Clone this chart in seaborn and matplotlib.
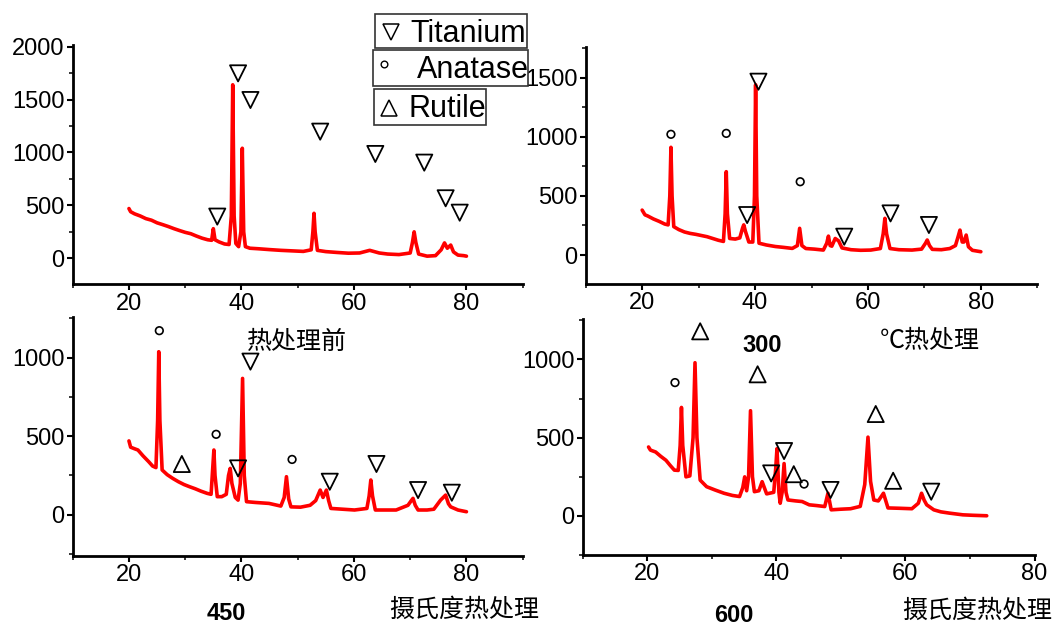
import matplotlib
matplotlib.use("Agg")
import matplotlib.pyplot as plt
import seaborn as sns
from matplotlib.ticker import MultipleLocator
from matplotlib.patches import Rectangle
from matplotlib.lines import Line2D

# ---------------- data ----------------
# Panel 1: before heat treatment
p1_x = [20.0, 20.3, 21.0, 22.0, 23.0, 24.0, 25.0, 26.0, 27.0, 28.0, 29.0, 30.0, 31.0, 32.0, 33.0,
        34.0, 34.7, 35.0, 35.3, 36.0, 37.0, 37.8, 38.2, 38.45, 38.7, 39.0, 39.5, 39.9, 40.15, 40.4,
        40.7, 41.5, 43.0, 45.0, 47.0, 49.0, 51.0, 52.4, 52.7, 52.9, 53.1, 53.5, 55.0, 57.0, 59.0,
        61.0, 62.8, 64.5, 66.0, 68.0, 70.0, 70.4, 70.7, 71.0, 71.5, 73.0, 74.5, 75.5, 76.1, 76.6,
        77.2, 77.7, 78.5, 79.5, 80.0]
p1_y = [470, 440, 420, 400, 375, 360, 335, 318, 300, 280, 262, 245, 232, 210, 190,
        175, 170, 280, 175, 155, 135, 130, 400, 1640, 400, 140, 110, 250, 1040, 250,
        110, 95, 90, 82, 75, 70, 65, 80, 250, 425, 250, 75, 63, 55, 48,
        50, 75, 50, 40, 35, 50, 150, 250, 150, 40, 20, 25, 80, 145, 95,
        125, 60, 30, 25, 20]

# Panel 2: 300 C
p2_x = [20.0, 20.5, 21.0, 22.0, 23.0, 24.0, 24.6, 24.9, 25.1, 25.3, 25.6, 26.5, 27.5, 28.5, 29.5,
        30.5, 31.5, 32.5, 33.5, 34.4, 34.7, 34.9, 35.1, 35.5, 36.5, 37.3, 37.8, 38.0, 38.3, 38.9,
        39.6, 39.9, 40.1, 40.3, 40.7, 42.0, 43.6, 45.0, 46.6, 47.5, 47.9, 48.3, 49.0, 50.5, 52.1,
        52.7, 53.0, 53.3, 53.6, 54.2, 54.8, 55.4, 57.0, 58.7, 60.5, 62.2, 62.7, 63.0, 63.3, 63.9,
        65.5, 67.8, 69.5, 70.2, 70.5, 70.9, 71.4, 73.0, 74.5, 75.5, 76.0, 76.3, 76.7, 77.0, 77.4,
        77.8, 78.5, 80.0]
p2_y = [380, 340, 330, 305, 285, 262, 255, 500, 911, 500, 240, 215, 195, 183, 175,
        165, 155, 140, 125, 115, 350, 705, 350, 140, 135, 145, 230, 255, 200, 110,
        110, 500, 1440, 500, 100, 85, 72, 65, 56, 80, 226, 80, 55, 50, 42,
        100, 160, 80, 75, 140, 120, 60, 45, 40, 42, 55, 180, 310, 180, 55,
        45, 42, 50, 100, 127, 80, 48, 45, 55, 80, 160, 211, 110, 110, 169,
        70, 40, 28]

# Panel 3: 450 C
p3_x = [20.0, 20.3, 21.0, 21.6, 22.5, 23.5, 24.2, 24.8, 25.1, 25.3, 25.5, 25.9, 26.8, 27.8, 28.8,
        29.8, 30.8, 31.8, 32.8, 33.9, 34.6, 34.9, 35.1, 35.3, 35.7, 36.5, 37.3, 37.7, 38.0, 38.3,
        38.9, 39.4, 39.8, 40.2, 40.5, 40.9, 42.5, 44.9, 47.0, 47.6, 48.0, 48.4, 48.8, 50.5, 52.2,
        53.2, 54.0, 54.5, 55.1, 55.5, 55.9, 58.0, 60.1, 62.3, 62.7, 63.0, 63.3, 63.8, 65.5, 67.5,
        69.6, 70.2, 70.5, 70.9, 71.4, 73.0, 74.2, 75.4, 76.3, 76.8, 77.2, 78.5, 80.0]
p3_y = [470, 430, 420, 412, 375, 338, 310, 300, 600, 1038, 600, 285, 255, 231, 210,
        192, 178, 165, 150, 136, 130, 300, 412, 250, 115, 115, 130, 250, 295, 200,
        110, 93, 200, 868, 250, 83, 78, 72, 55, 110, 242, 100, 50, 48, 60,
        90, 157, 110, 157, 90, 40, 35, 30, 40, 120, 221, 120, 30, 30, 30,
        60, 90, 104, 60, 30, 30, 35, 93, 125, 70, 50, 30, 19]

# Panel 4: 600 C
p4_x = [20.2, 20.5, 21.3, 22.1, 22.9, 23.6, 24.2, 24.8, 25.1, 25.3, 25.5, 26.0, 26.6, 27.1, 27.4,
        27.7, 28.2, 29.2, 30.5, 31.9, 33.2, 34.3, 34.8, 35.1, 35.4, 35.7, 36.0, 36.3, 36.6, 37.3,
        37.8, 38.5, 39.6, 39.9, 40.1, 40.4, 40.6, 40.9, 41.2, 41.5, 41.8, 43.0, 44.0, 45.1, 46.3,
        47.5, 48.0, 48.5, 50.0, 51.5, 53.0, 53.7, 54.2, 54.6, 55.1, 55.8, 56.6, 57.3, 59.0, 61.0,
        62.0, 62.5, 62.9, 63.3, 64.4, 65.5, 66.8, 68.9, 70.5, 72.6]
p4_y = [440, 420, 408, 380, 355, 320, 292, 290, 450, 693, 450, 249, 255, 500, 979,
        500, 228, 186, 165, 144, 130, 123, 180, 249, 160, 250, 672, 250, 154, 160,
        218, 140, 150, 300, 429, 150, 80, 150, 334, 150, 101, 95, 91, 70, 65,
        59, 144, 38, 42, 45, 60, 200, 503, 220, 101, 95, 144, 50, 48, 45,
        80, 144, 100, 70, 38, 25, 17, 6, 3, 0]

# Phase markers (x, y) per panel
p1_ti_x = [35.7, 39.4, 41.6, 54.0, 63.8, 72.5, 76.3, 78.8]
p1_ti_y = [394, 1748, 1496, 1197, 986, 904, 567, 431]

p2_an_x = [25.1, 34.9, 48.0]
p2_an_y = [1021, 1029, 620]
p2_ti_x = [38.6, 40.6, 55.8, 64.0, 70.8]
p2_ti_y = [338, 1466, 155, 352, 254]

p3_an_x = [25.4, 35.5, 49.0]
p3_an_y = [1172, 512, 352]
p3_ru_x = [29.4]
p3_ru_y = [323]
p3_ti_x = [39.4, 41.6, 55.7, 64.0, 71.4, 77.4]
p3_ti_y = [295, 975, 210, 323, 157, 140]

p4_an_x = [24.3, 44.3]
p4_an_y = [852, 203]
p4_ru_x = [28.2, 37.1, 42.7, 55.4, 58.1]
p4_ru_y = [1180, 905, 266, 651, 224]
p4_ti_x = [39.2, 41.2, 48.4, 64.0]
p4_ti_y = [271, 414, 165, 154]

legend_labels = ["Titanium", "Anatase", "Rutile"]
panel_titles_cn = ["热处理前", "℃热处理", "摄氏度热处理", "摄氏度热处理"]
panel_temps = ["300", "450", "600"]

# ---------------- figure ----------------
sns.set_style("ticks")
plt.rcParams["font.family"] = ["Liberation Sans", "DejaVu Sans"]

W, H = 1054, 625
fig = plt.figure(figsize=(W / 100, H / 100), dpi=100)


def px_axes(l, t, r, b):
    return fig.add_axes([l / W, 1 - b / H, (r - l) / W, (b - t) / H])


def fx(x):
    return x / W


def fy(y):
    return 1 - y / H


panels = [
    dict(rect=(72.7, 45.0, 522.7, 284.3), xlim=(10, 90), ylim=(-246, 2016),
         x=p1_x, y=p1_y, ti=(p1_ti_x, p1_ti_y), an=None, ru=None),
    dict(rect=(585.7, 46.7, 1037.3, 284.0), xlim=(10, 90), ylim=(-245, 1762),
         x=p2_x, y=p2_y, ti=(p2_ti_x, p2_ti_y), an=(p2_an_x, p2_an_y), ru=None),
    dict(rect=(72.7, 316.7, 522.7, 555.7), xlim=(10, 90), ylim=(-261, 1261),
         x=p3_x, y=p3_y, ti=(p3_ti_x, p3_ti_y), an=(p3_an_x, p3_an_y), ru=(p3_ru_x, p3_ru_y)),
    dict(rect=(582.7, 318.5, 1034.5, 555.0), xlim=(10, 80), ylim=(-251, 1262),
         x=p4_x, y=p4_y, ti=(p4_ti_x, p4_ti_y), an=(p4_an_x, p4_an_y), ru=(p4_ru_x, p4_ru_y)),
]

for p in panels:
    ax = px_axes(*p["rect"])
    ax.set_facecolor("none")
    sns.lineplot(x=p["x"], y=p["y"], ax=ax, color="#ff0000", linewidth=2.6,
                 sort=False, estimator=None)
    if p["ti"] is not None:
        sns.scatterplot(x=p["ti"][0], y=p["ti"][1], ax=ax, marker="v", s=135,
                        facecolor="none", edgecolor="black", linewidth=1.3, zorder=5)
    if p["ru"] is not None:
        sns.scatterplot(x=p["ru"][0], y=p["ru"][1], ax=ax, marker="^", s=135,
                        facecolor="none", edgecolor="black", linewidth=1.3, zorder=5)
    if p["an"] is not None:
        sns.scatterplot(x=p["an"][0], y=p["an"][1], ax=ax, marker="o", s=30,
                        facecolor="none", edgecolor="black", linewidth=1.2, zorder=5)
    ax.set_xlim(*p["xlim"])
    ax.set_ylim(*p["ylim"])
    ax.xaxis.set_major_locator(MultipleLocator(20))
    ax.xaxis.set_minor_locator(MultipleLocator(10))
    ax.yaxis.set_major_locator(MultipleLocator(500))
    ax.yaxis.set_minor_locator(MultipleLocator(250))
    ax.tick_params(which="major", direction="out", length=4.5, width=1.5,
                   labelsize=17, pad=1.5, colors="black")
    ax.tick_params(which="minor", direction="out", length=3, width=1.3)
    ax.set_xlabel("")
    ax.set_ylabel("")
    for side in ("top", "right"):
        ax.spines[side].set_visible(False)
    for side in ("left", "bottom"):
        ax.spines[side].set_linewidth(2)
        ax.spines[side].set_color("black")
    ax.grid(False)

# ---------------- panel captions ----------------
cn = dict(family=["Noto Sans CJK SC", "DejaVu Sans"], fontsize=18,
          color="black", ha="center", va="center")
fig.text(fx(297), fy(341.5), panel_titles_cn[0], **cn)
fig.text(fx(930), fy(341.5), panel_titles_cn[1], **cn)
fig.text(fx(464), fy(610), panel_titles_cn[2], **cn)
fig.text(fx(977), fy(611), panel_titles_cn[3], **cn)

num = dict(fontsize=17, fontweight="bold", color="black", ha="center", va="baseline")
fig.text(fx(762), fy(351.7), panel_temps[0], **num)
fig.text(fx(226), fy(620), panel_temps[1], **num)
fig.text(fx(734), fy(621.7), panel_temps[2], **num)

# ---------------- legend boxes ----------------
boxes = [(375, 14, 526.7, 48.3), (373.3, 50, 528.3, 86), (374, 89.3, 486, 125)]
for (x0, y0, x1, y1) in boxes:
    fig.add_artist(Rectangle((fx(x0), fy(y1)), (x1 - x0) / W, (y1 - y0) / H,
                             transform=fig.transFigure, facecolor="white",
                             edgecolor="#333333", linewidth=1.2, zorder=10))

fig.add_artist(Line2D([fx(391)], [fy(31.7)], marker="v", markersize=11,
                      markerfacecolor="none", markeredgecolor="black",
                      markeredgewidth=1.1, transform=fig.transFigure, zorder=11))
fig.add_artist(Line2D([fx(384)], [fy(63.7)], marker="o", markersize=4.8,
                      markerfacecolor="none", markeredgecolor="black",
                      markeredgewidth=1.0, transform=fig.transFigure, zorder=11))
fig.add_artist(Line2D([fx(388.7)], [fy(107.5)], marker="^", markersize=11,
                      markerfacecolor="none", markeredgecolor="black",
                      markeredgewidth=1.1, transform=fig.transFigure, zorder=11))

leg = dict(fontsize=22, color="black", ha="left", va="baseline", zorder=12)
fig.text(fx(410), fy(41.7), legend_labels[0], **leg)
fig.text(fx(416.7), fy(78.3), legend_labels[1], **leg)
fig.text(fx(408.3), fy(116.7), legend_labels[2], **leg)

fig.savefig("out.png", dpi=100)
